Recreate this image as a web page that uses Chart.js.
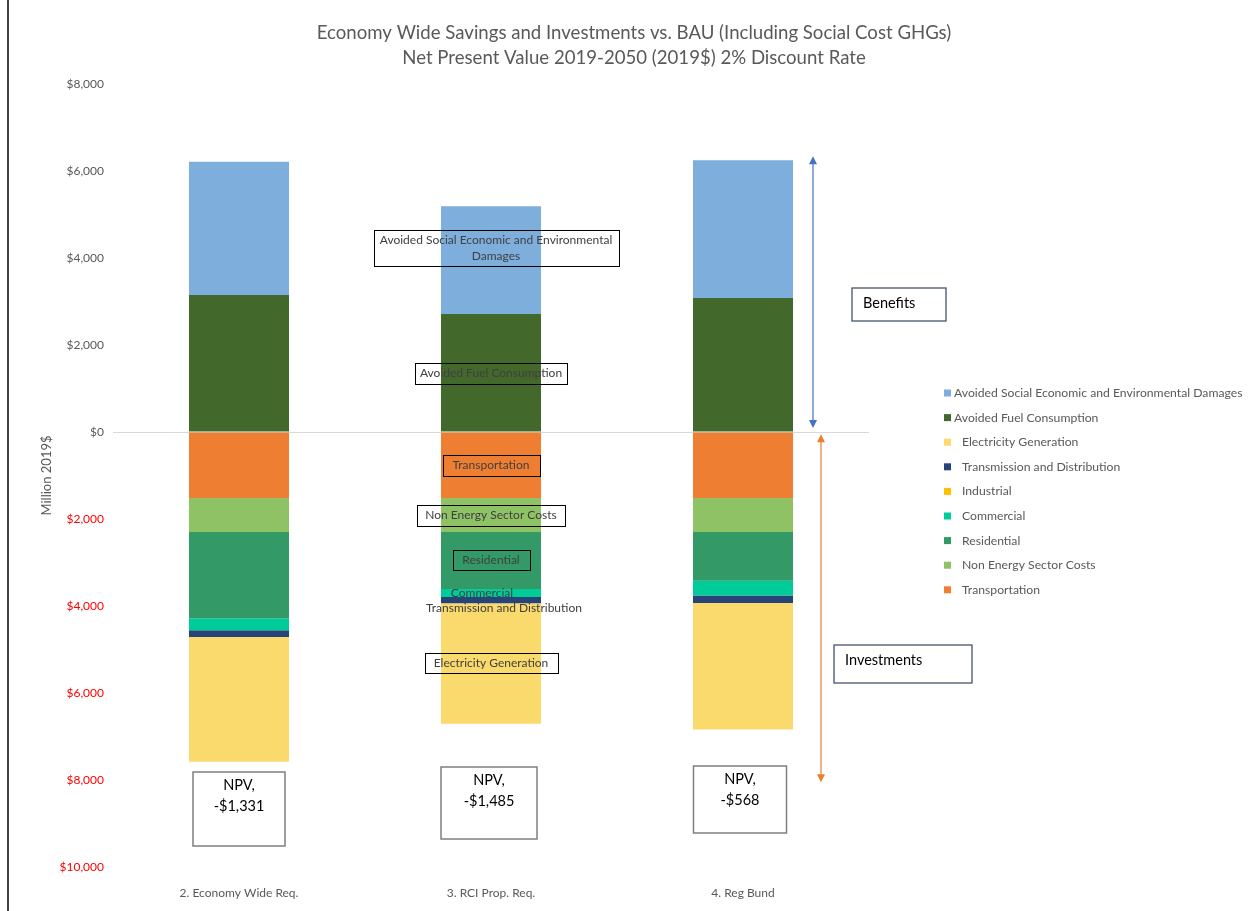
<!DOCTYPE html>
<html>
<head>
<meta charset="utf-8">
<title>Economy Wide Savings and Investments vs. BAU</title>
<script src="https://cdn.jsdelivr.net/npm/chart.js@4/dist/chart.umd.min.js"></script>
<style>
  html, body { margin: 0; padding: 0; background: #ffffff; }
  #wrap { position: relative; width: 1255px; height: 911px; }
</style>
</head>
<body>
<div id="wrap"><canvas id="c" width="1255" height="911"></canvas></div>
<script>
// Scenarios compared against business-as-usual (million 2019$, NPV 2019-2050, 2% discount)
const categories = ['2. Economy Wide Req.', '3. RCI Prop. Req.', '4. Reg Bund'];

// Benefits (positive)
const avoidedSocial = [3060, 2480, 3170];
const avoidedFuel = [3150, 2710, 3080];

// Investments (negative)
const transportation = [-1520, -1520, -1520];
const nonEnergy = [-780, -780, -780];
const residential = [-1980, -1310, -1120];
const commercial = [-280, -185, -340];
const transmission = [-150, -140, -170];
const industrial = [0, 0, 0];
const electricity = [-2870, -2770, -2910];

// Net present value printed under each bar
const npvValues = [-1331, -1485, -568];

// Axis range
const yMin = -10000;
const yMax = 8000;
const yStep = 2000;

const titleLines = [
  'Economy Wide Savings and Investments vs. BAU (Including Social Cost GHGs)',
  'Net Present Value 2019-2050 (2019$) 2% Discount Rate'
];
const yAxisTitle = 'Million 2019$';

const COLORS = {
  social: '#7DAEDC',
  fuel: '#43682B',
  elec: '#FADA6C',
  tnd: '#264478',
  industrial: '#FFC000',
  commercial: '#00CC99',
  residential: '#339966',
  nonEnergy: '#8FC165',
  transport: '#EE7E32'
};

// Stack order: first dataset sits nearest the zero line
const datasets = [
  { key: 'fuel', label: 'Avoided Fuel Consumption', data: avoidedFuel, backgroundColor: COLORS.fuel },
  { key: 'social', label: 'Avoided Social Economic and Environmental Damages', data: avoidedSocial, backgroundColor: COLORS.social },
  { key: 'transport', label: 'Transportation', data: transportation, backgroundColor: COLORS.transport },
  { key: 'nonEnergy', label: 'Non Energy Sector Costs', data: nonEnergy, backgroundColor: COLORS.nonEnergy },
  { key: 'residential', label: 'Residential', data: residential, backgroundColor: COLORS.residential },
  { key: 'commercial', label: 'Commercial', data: commercial, backgroundColor: COLORS.commercial },
  { key: 'tnd', label: 'Transmission and Distribution', data: transmission, backgroundColor: COLORS.tnd },
  { key: 'industrial', label: 'Industrial', data: industrial, backgroundColor: COLORS.industrial },
  { key: 'elec', label: 'Electricity Generation', data: electricity, backgroundColor: COLORS.elec }
];

// Legend order; investment entries are indented
const legendOrder = ['social', 'fuel', 'elec', 'tnd', 'industrial', 'commercial', 'residential', 'nonEnergy', 'transport'];
const legendIndent = { social: 0, fuel: 0 };

const FONT = 'Lato, "Open Sans", "Liberation Sans", sans-serif';
const GREY = '#595959';

function money(v) {
  return '$' + Math.abs(v).toLocaleString('en-US');
}

// Callouts on the middle bar: text, value where the box sits, horizontal offset, boxed or not
const middleCallouts = [
  { lines: ['Avoided Social Economic and Environmental', 'Damages'], value: 4230, dx: 5, w: 245, h: 36, box: true },
  { lines: ['Avoided Fuel Consumption'], value: 1350, dx: 0, w: 152, h: 21, box: true },
  { lines: ['Transportation'], value: -765, dx: 0, w: 97, h: 21, box: true },
  { lines: ['Non Energy Sector Costs'], value: -1915, dx: 0, w: 148, h: 21, box: true },
  { lines: ['Residential'], value: -2945, dx: 0, w: 77, h: 20, box: true },
  { lines: ['Commercial'], value: -3700, dx: -9, w: 0, h: 0, box: false },
  { lines: ['Transmission and Distribution'], value: -4040, dx: 13, w: 0, h: 0, box: false },
  { lines: ['Electricity Generation'], value: -5305, dx: 0, w: 133, h: 20, box: true }
];

const overlay = {
  id: 'overlay',
  afterDraw(chart) {
    const { ctx } = chart;
    const xs = chart.scales.x;
    const ys = chart.scales.y;

    ctx.save();

    // frame line on the left
    ctx.strokeStyle = '#3F3F3F';
    ctx.lineWidth = 2;
    ctx.beginPath();
    ctx.moveTo(8, 0);
    ctx.lineTo(8, 911);
    ctx.stroke();

    // title
    ctx.fillStyle = GREY;
    ctx.textAlign = 'center';
    ctx.textBaseline = 'middle';
    ctx.font = '18.6px ' + FONT;
    ctx.fillText(titleLines[0], 634, 33);
    ctx.fillText(titleLines[1], 634, 58);

    // y axis title
    ctx.save();
    ctx.translate(47, (ys.top + ys.bottom) / 2);
    ctx.rotate(-Math.PI / 2);
    ctx.font = '13px ' + FONT;
    ctx.fillStyle = GREY;
    ctx.fillText(yAxisTitle, 0, 0);
    ctx.restore();

    // legend
    ctx.font = '12.2px ' + FONT;
    ctx.textAlign = 'left';
    legendOrder.forEach((k, i) => {
      const ds = datasets.find(d => d.key === k);
      const cy = 393 + i * 24.6;
      ctx.fillStyle = ds.backgroundColor;
      ctx.fillRect(944, cy - 3.5, 7, 7);
      ctx.fillStyle = GREY;
      const indent = (k in legendIndent) ? 10 : 18;
      ctx.fillText(ds.label, 944 + indent, cy);
    });

    // callouts on the middle bar
    const mx = xs.getPixelForValue(1);
    ctx.font = '12px ' + FONT;
    ctx.textAlign = 'center';
    middleCallouts.forEach(c => {
      const cy = ys.getPixelForValue(c.value);
      const cx = mx + c.dx;
      if (c.box) {
        ctx.strokeStyle = '#000000';
        ctx.lineWidth = 1;
        ctx.strokeRect(Math.round(cx - c.w / 2) + 0.5, Math.round(cy - c.h / 2) + 0.5, c.w, c.h);
      }
      ctx.fillStyle = '#404040';
      const lh = 16;
      const start = cy - (c.lines.length - 1) * lh / 2;
      c.lines.forEach((t, j) => ctx.fillText(t, cx, start + j * lh));
    });

    // NPV boxes under each bar
    const npvBoxes = [
      { dx: 0, top: 772, h: 74, w: 92 },
      { dx: -2, top: 767, h: 72, w: 96 },
      { dx: -3, top: 766, h: 67, w: 93 }
    ];
    npvValues.forEach((v, i) => {
      const b = npvBoxes[i];
      const cx = xs.getPixelForValue(i) + b.dx;
      ctx.fillStyle = '#ffffff';
      ctx.fillRect(cx - b.w / 2, b.top, b.w, b.h);
      ctx.strokeStyle = '#7F7F7F';
      ctx.lineWidth = 1.5;
      ctx.strokeRect(cx - b.w / 2, b.top, b.w, b.h);
      ctx.fillStyle = '#000000';
      ctx.font = '14.5px ' + FONT;
      ctx.fillText('NPV,', cx, b.top + 13);
      ctx.fillText((v < 0 ? '-' : '') + money(v), cx, b.top + 34);
    });

    // double-headed arrows beside the last bar
    const rx = xs.getPixelForValue(2);
    function arrow(x, yTop, yBot, color) {
      ctx.strokeStyle = color;
      ctx.fillStyle = color;
      ctx.lineWidth = 1.2;
      ctx.beginPath();
      ctx.moveTo(x, yTop + 6);
      ctx.lineTo(x, yBot - 6);
      ctx.stroke();
      ctx.beginPath();
      ctx.moveTo(x, yTop);
      ctx.lineTo(x - 4, yTop + 8);
      ctx.lineTo(x + 4, yTop + 8);
      ctx.closePath();
      ctx.fill();
      ctx.beginPath();
      ctx.moveTo(x, yBot);
      ctx.lineTo(x - 4, yBot - 8);
      ctx.lineTo(x + 4, yBot - 8);
      ctx.closePath();
      ctx.fill();
    }
    arrow(rx + 70, ys.getPixelForValue(6340), ys.getPixelForValue(90), '#4472C4');
    arrow(rx + 78, ys.getPixelForValue(-50), ys.getPixelForValue(-8050), '#ED7D31');

    // group labels
    function groupBox(text, x0, y0, w, h) {
      ctx.fillStyle = '#ffffff';
      ctx.fillRect(x0, y0, w, h);
      ctx.strokeStyle = '#44546A';
      ctx.lineWidth = 1.3;
      ctx.strokeRect(x0, y0, w, h);
      ctx.fillStyle = '#000000';
      ctx.font = '14.5px ' + FONT;
      ctx.textAlign = 'left';
      ctx.fillText(text, x0 + 11, y0 + 15);
    }
    groupBox('Benefits', rx + 109, 288, 94, 33);
    groupBox('Investments', rx + 91, 645, 138, 38);

    ctx.restore();
  }
};

new Chart(document.getElementById('c'), {
  type: 'bar',
  data: {
    labels: categories,
    datasets: datasets.map(d => ({
      label: d.label,
      data: d.data,
      backgroundColor: d.backgroundColor,
      borderWidth: 0,
      categoryPercentage: 1,
      barPercentage: 0.397
    }))
  },
  options: {
    responsive: false,
    devicePixelRatio: 1,
    animation: false,
    layout: { padding: { left: 0, top: 84, right: 386, bottom: 0 } },
    plugins: {
      legend: { display: false },
      title: { display: false },
      tooltip: { enabled: false }
    },
    scales: {
      x: {
        stacked: true,
        grid: { display: false },
        border: { display: false },
        ticks: { color: GREY, font: { family: FONT, size: 12 }, padding: 11 },
        afterFit(s) { s.height = 44; }
      },
      y: {
        stacked: true,
        min: yMin,
        max: yMax,
        ticks: {
          stepSize: yStep,
          padding: 9,
          font: { family: FONT, size: 12 },
          color: c => (c.tick && c.tick.value < 0 ? '#FF0000' : GREY),
          callback: v => money(v)
        },
        grid: {
          drawTicks: false,
          lineWidth: 1,
          color: c => (c.tick && c.tick.value === 0 ? '#D9D9D9' : 'rgba(0,0,0,0)')
        },
        border: { display: false },
        afterFit(s) { s.width = 113; }
      }
    }
  },
  plugins: [overlay]
});
</script>
</body>
</html>
